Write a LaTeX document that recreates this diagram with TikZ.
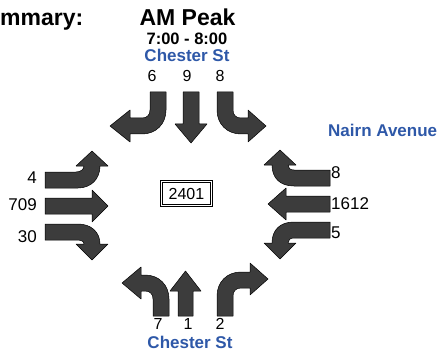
\documentclass[tikz,border=0pt]{standalone}
\usepackage{fontspec}
\setmainfont{Liberation Sans}
\definecolor{streetblue}{RGB}{46,88,168}
\definecolor{arrowgrey}{RGB}{60,60,60}
\tikzset{
  mvt/.style={fill=arrowgrey, draw=black, line width=0.5pt, line join=round},
  toplbl/.style={inner sep=0pt, anchor=base, font=\fontsize{16}{16}\selectfont},
  sidelbl/.style={inner sep=0pt, font=\fontsize{17}{17}\selectfont},
  street/.style={inner sep=0pt, text=streetblue, font=\bfseries\fontsize{17}{17}\selectfont},
  titletxt/.style={inner sep=0pt, font=\bfseries\fontsize{23}{23}\selectfont},
}
\begin{document}
\begin{tikzpicture}[x=1pt,y=-1pt]
\useasboundingbox (0,0) rectangle (438,358);

% titles
\node[titletxt, anchor=base west] (summ) at (0,26) {mmary:};
\node[titletxt, anchor=base] (peak) at (187.5,26) {AM Peak};
\node[inner sep=0pt, anchor=base, font=\bfseries\fontsize{16.5}{16.5}\selectfont] (time) at (187,45) {7:00 - 8:00};
\node[street, anchor=base] (chn) at (187,62) {Chester St};
\node[street, anchor=base west] (nairn) at (328,136) {Nairn Avenue};
\node[street, anchor=base] (chs) at (190,348) {Chester St};

% north approach labels
\node[toplbl] (n6) at (152,82) {6};
\node[toplbl] (n9) at (187,82) {9};
\node[toplbl] (n8) at (220,82) {8};
% south approach labels
\node[toplbl] (s7) at (158,329) {7};
\node[toplbl] (s1) at (188,329) {1};
\node[toplbl] (s2) at (220,329) {2};
% west approach labels
\node[sidelbl, anchor=base east] (w4) at (37,183) {4};
\node[sidelbl, anchor=base east] (w709) at (37,210) {709};
\node[sidelbl, anchor=base east] (w30) at (37,242) {30};
% east approach labels
\node[sidelbl, anchor=base west] (e8) at (331,178) {8};
\node[sidelbl, anchor=base west] (e1612) at (331,209) {1612};
\node[sidelbl, anchor=base west] (e5) at (331,238) {5};

% centre box
\node[draw=black, double, double distance=1.4pt, line width=0.8pt,
      minimum width=50pt, minimum height=24.5pt, inner sep=0pt,
      font=\fontsize{16}{16}\selectfont] (total) at (186.5,193.5) {2401};

% ---- north approach (southbound) ----
\path[mvt] (150,92) -- (150,110) .. controls (150,115) and (147,118) .. (142,118)
  -- (130,118) -- (130,110) -- (110,126) -- (130,142) -- (130,134) -- (142,134)
  .. controls (156,134) and (166,124) .. (166,110) -- (166,92) -- cycle;
\path[mvt] (183,92) -- (199,92) -- (199,124) -- (207,124) -- (191,143)
  -- (175,124) -- (183,124) -- cycle;
\path[mvt] (233,92) -- (233,110) .. controls (233,115) and (236,118) .. (241,118)
  -- (248,118) -- (248,110) -- (266,126) -- (248,142) -- (248,134) -- (241,134)
  .. controls (227,134) and (217,124) .. (217,110) -- (217,92) -- cycle;

% ---- south approach (northbound) ----
\path[mvt] (153,316) -- (153,299) .. controls (153,294) and (150,291) .. (145,291)
  -- (141,291) -- (141,299) -- (122,283) -- (141,267) -- (141,275) -- (145,275)
  .. controls (159,275) and (169,285) .. (169,299) -- (169,316) -- cycle;
\path[mvt] (178,316) -- (193,316) -- (193,291) -- (201,291) -- (185.5,271)
  -- (170,291) -- (178,291) -- cycle;
\path[mvt] (233,316) -- (233,296) .. controls (233,291) and (236,288) .. (241,288)
  -- (250,288) -- (250,295) -- (268,279) -- (250,263) -- (250,272) -- (241,272)
  .. controls (227,272) and (217,282) .. (217,296) -- (217,316) -- cycle;

% ---- west approach (eastbound) ----
\path[mvt] (45,172) -- (76,172) .. controls (81,172) and (84,169) .. (84,166)
  -- (76,166) -- (92,151) -- (108,166) -- (100,166)
  .. controls (100,179) and (91,188) .. (78,188) -- (45,188) -- cycle;
\path[mvt] (45,198) -- (92,198) -- (92,190) -- (108,206) -- (92,222)
  -- (92,214) -- (45,214) -- cycle;
\path[mvt] (45,224) -- (78,224) .. controls (91,224) and (100,232) .. (100,244)
  -- (108,244) -- (92,260) -- (76,244) -- (84,244)
  .. controls (84,241) and (81,240) .. (76,240) -- (45,240) -- cycle;

% ---- east approach (westbound) ----
\path[mvt] (330,170) -- (294,170) .. controls (290,170) and (288,168) .. (288,165)
  -- (296,165) -- (280,150) -- (264,165) -- (272,165)
  .. controls (272,178) and (280,186) .. (294,186) -- (330,186) -- cycle;
\path[mvt] (330,196) -- (286,196) -- (286,188) -- (268,204) -- (286,220)
  -- (286,212) -- (330,212) -- cycle;
\path[mvt] (330,222) -- (294,222) .. controls (280,222) and (272,230) .. (272,243)
  -- (264,243) -- (280,259) -- (296,243) -- (288,243)
  .. controls (288,240) and (290,238) .. (294,238) -- (330,238) -- cycle;
\end{tikzpicture}
\end{document}
